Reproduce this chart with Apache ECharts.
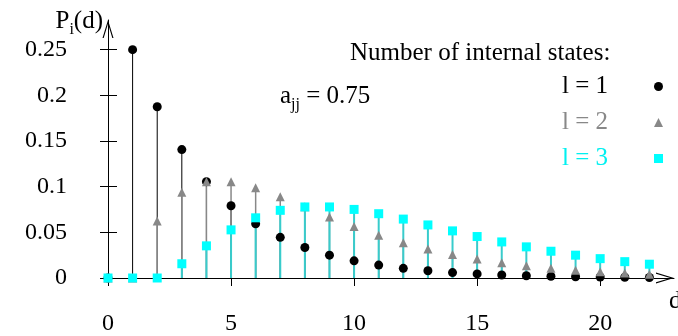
<!DOCTYPE html>
<html>
<head>
<meta charset="utf-8">
<script src="https://cdn.jsdelivr.net/npm/echarts@6/dist/echarts.min.js"></script>
<style>
  html, body { margin: 0; padding: 0; background: #fff; }
  #chart { width: 678px; height: 336px; }
</style>
</head>
<body>
<div id="chart"></div>
<script>
// durations d
const durations = [0, 1, 2, 3, 4, 5, 6, 7, 8, 9, 10, 11, 12, 13, 14, 15, 16, 17, 18, 19, 20, 21, 22];
// P_i(d), one internal state
const states1 = [0, 0.25, 0.1875, 0.1406, 0.1055, 0.0791, 0.0593, 0.0445, 0.0334, 0.025, 0.0188, 0.0141,
    0.0106, 0.0079, 0.0059, 0.0045, 0.0033, 0.0025, 0.0019, 0.0014, 0.0011, 0.0008, 0.0006];
// two internal states
const states2 = [0, 0, 0.0625, 0.0938, 0.1055, 0.1055, 0.0989, 0.089, 0.0779, 0.0667, 0.0563, 0.0469,
    0.0387, 0.0317, 0.0257, 0.0208, 0.0167, 0.0134, 0.0107, 0.0085, 0.0068, 0.0054, 0.0042];
// three internal states
const states3 = [0, 0, 0, 0.0156, 0.0352, 0.0527, 0.0659, 0.0741, 0.0778, 0.0778, 0.0751, 0.0704,
    0.0645, 0.0581, 0.0516, 0.0454, 0.0395, 0.0341, 0.0293, 0.025, 0.0212, 0.0179, 0.0151];
const xTicks = [0, 5, 10, 15, 20];
const yTicks = [0, 0.05, 0.1, 0.15, 0.2, 0.25];
const legendNames = ['l = 1', 'l = 2', 'l = 3'];

const font = 'Liberation Serif, Times New Roman, serif';
// open arrow head pointing up; the tiny dot on top keeps the tip in the middle of the box
const arrow = 'path://M5.5,0 L5.55,0 L5.5,0.05 Z M5.5,18 L11,36 L9.8,36 L5.5,21.8 L1.2,36 L0,36 Z';

const myChart = echarts.init(document.getElementById('chart'));

const pairs = vals => vals.map((v, i) => [durations[i], v]);

// vertical stems from 0 up to the value
function stems(name, vals, color, width, z) {
    return {
        name: name,
        type: 'custom',
        z: z,
        silent: true,
        data: pairs(vals),
        renderItem: function (params, api) {
            const top = api.coord([api.value(0), api.value(1)]);
            const base = api.coord([api.value(0), 0]);
            return {
                type: 'line',
                shape: {x1: base[0], y1: base[1], x2: top[0], y2: top[1]},
                style: {stroke: color, lineWidth: width}
            };
        }
    };
}

function dots(name, vals, symbol, size, color, z) {
    return {
        name: name,
        type: 'scatter',
        z: z,
        symbol: symbol,
        symbolSize: size,
        itemStyle: {color: color, opacity: 1},
        data: pairs(vals)
    };
}

const subRich = {
    m: {fontSize: 25, fontFamily: font, color: '#000', verticalAlign: 'top', lineHeight: 28},
    s: {fontSize: 16, fontFamily: font, color: '#000', verticalAlign: 'top', lineHeight: 19, padding: [13, 0, 0, 0]}
};

const option = {
    backgroundColor: '#fff',
    animation: false,
    title: {
        text: 'Number of internal states:',
        left: 350,
        top: 41,
        padding: 0,
        textStyle: {fontSize: 25, fontWeight: 'normal', fontFamily: font, color: '#000'}
    },
    legend: {
        orient: 'vertical',
        right: 15,
        top: 74,
        padding: 0,
        align: 'right',
        itemWidth: 9,
        itemHeight: 9,
        itemGap: 11,
        selectedMode: false,
        textStyle: {fontSize: 25, fontFamily: font, padding: [0, 41, 0, 0]},
        data: [
            {name: legendNames[0], textStyle: {color: '#000'}},
            {name: legendNames[1], textStyle: {color: '#888'}},
            {name: legendNames[2], textStyle: {color: '#00f0f0'}}
        ]
    },
    graphic: [
        {
            type: 'text',
            left: 280,
            top: 84,
            style: {
                text: '{m|a}{s|jj}{m| = 0.75}',
                rich: subRich
            }
        },
        {
            // x axis name, sits under the arrow head
            type: 'text',
            left: 669,
            top: 289,
            style: {text: 'd', fontSize: 25, fontFamily: font, fill: '#000'}
        }
    ],
    grid: {left: 108, right: 4, top: 20, bottom: 52, containLabel: false},
    xAxis: {
        type: 'value',
        min: 0,
        max: 23,
        axisLine: {
            show: true,
            symbol: ['none', arrow],
            symbolSize: [11, 36],
            lineStyle: {color: '#000', width: 1}
        },
        axisTick: {show: true, length: 8, customValues: xTicks, lineStyle: {color: '#000', width: 1}},
        axisLabel: {customValues: xTicks, margin: 34, fontSize: 24, fontFamily: font, color: '#000'},
        splitLine: {show: false}
    },
    yAxis: [
        {
            type: 'value',
            min: 0,
            max: 0.2825,
            name: '{m|P}{s|i}{m|(d)}',
            nameLocation: 'end',
            nameGap: -3,
            nameMoveOverlap: false,
            nameTextStyle: {align: 'right', verticalAlign: 'middle', padding: [0, 5, 0, 0], rich: subRich},
            axisLine: {
                show: true,
                symbol: ['none', arrow],
                symbolSize: [11, 36],
                lineStyle: {color: '#000', width: 1}
            },
            axisTick: {show: true, length: 8, customValues: yTicks, lineStyle: {color: '#000', width: 1}},
            axisLabel: {customValues: yTicks, margin: 41, fontSize: 24, fontFamily: font, color: '#000'},
            splitLine: {show: false}
        },
        {
            // inner half of the crossing tick marks
            type: 'value',
            min: 0,
            max: 0.2825,
            position: 'left',
            axisLine: {show: false},
            axisTick: {show: true, inside: true, length: 9, customValues: yTicks, lineStyle: {color: '#000', width: 1}},
            axisLabel: {show: false},
            splitLine: {show: false}
        }
    ],
    series: [
        stems('stem 1', states1, '#000', 1, 1),
        stems('stem 2', states2, '#888', 1.5, 2),
        stems('stem 3', states3, '#38cccc', 2, 3),
        dots(legendNames[0], states1, 'circle', 9, '#000', 4),
        dots(legendNames[1], states2, 'triangle', 9, '#888', 5),
        dots(legendNames[2], states3, 'rect', 9, '#00ffff', 6)
    ]
};

myChart.setOption(option, true);
</script>
</body>
</html>
